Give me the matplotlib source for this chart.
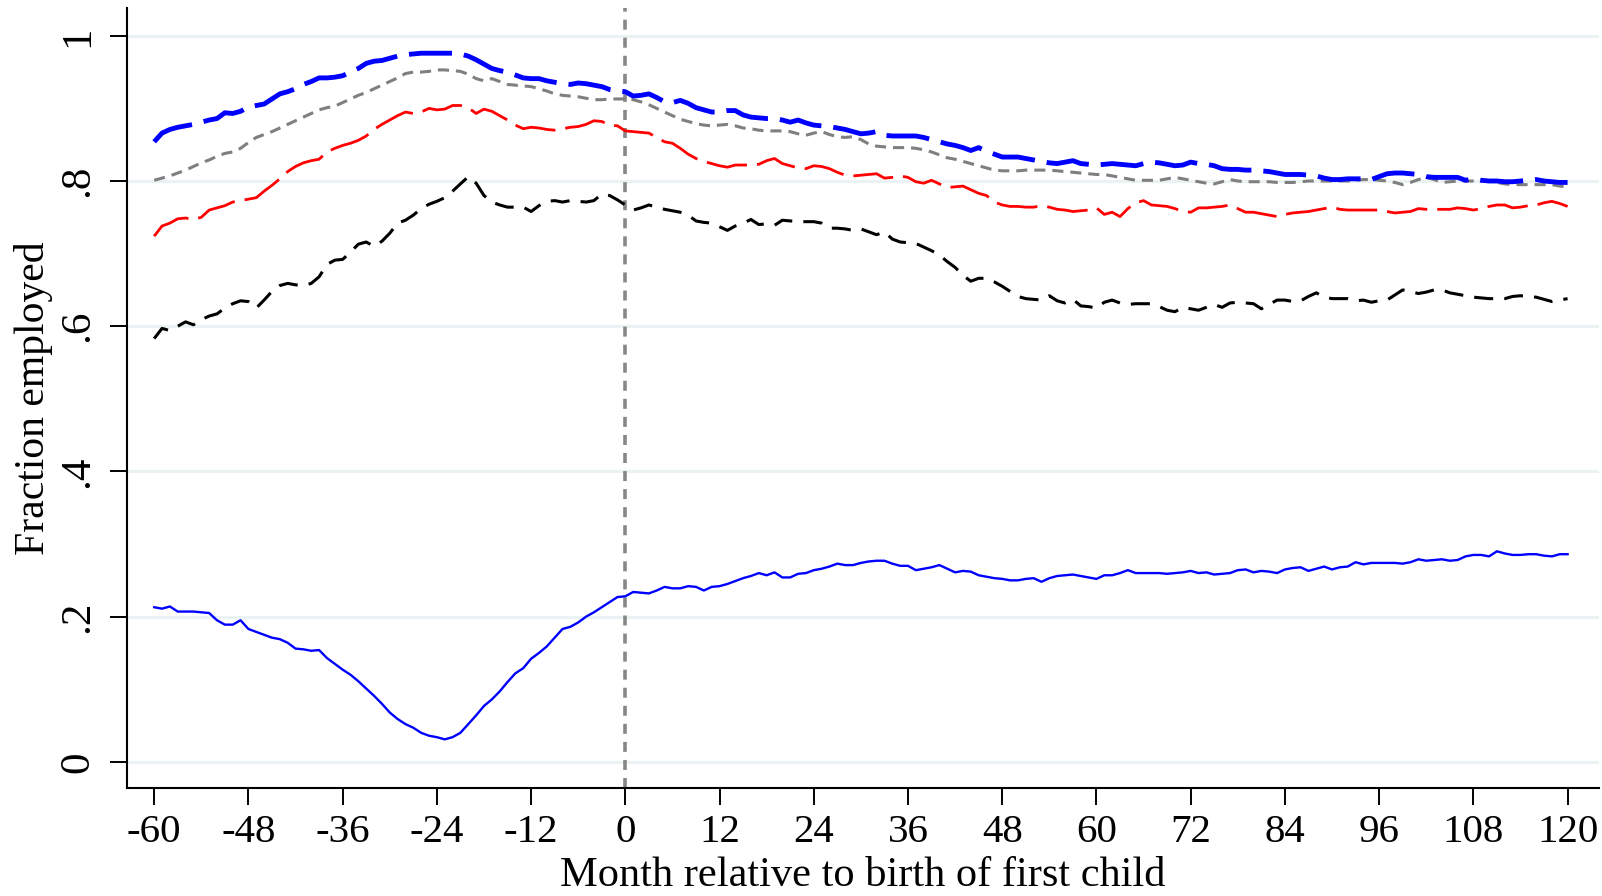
import matplotlib
matplotlib.use("Agg")
import matplotlib.pyplot as plt
import numpy as np

plt.rcParams['font.family'] = ['Liberation Serif', 'DejaVu Serif']
plt.rcParams['lines.scale_dashes'] = False

months = list(range(-60, 121))

# Top blue long-dashed series
blue_dash = [
    0.854, 0.866, 0.871, 0.874, 0.876, 0.878, 0.881, 0.884, 0.886, 0.894,
    0.893, 0.896, 0.902, 0.904, 0.906, 0.913, 0.920, 0.923, 0.927, 0.933,
    0.937, 0.942, 0.942, 0.943, 0.945, 0.950, 0.955, 0.962, 0.965, 0.966,
    0.969, 0.972, 0.974, 0.975, 0.976, 0.976, 0.976, 0.976, 0.976, 0.975,
    0.972, 0.967, 0.961, 0.955, 0.952, 0.950, 0.946, 0.942, 0.941, 0.941,
    0.938, 0.936, 0.934, 0.933, 0.935, 0.934, 0.932, 0.930, 0.926, 0.924,
    0.923, 0.917, 0.918, 0.920, 0.915, 0.909, 0.908, 0.911, 0.907, 0.901,
    0.898, 0.895, 0.895, 0.897, 0.897, 0.891, 0.888, 0.887, 0.886, 0.886,
    0.884, 0.881, 0.884, 0.880, 0.877, 0.876, 0.875, 0.873, 0.871, 0.868,
    0.865, 0.866, 0.868, 0.863, 0.862, 0.862, 0.862, 0.862, 0.860, 0.857,
    0.854, 0.851, 0.849, 0.846, 0.842, 0.846, 0.841, 0.837, 0.833, 0.833,
    0.833, 0.831, 0.829, 0.827, 0.825, 0.824, 0.826, 0.828, 0.824, 0.823,
    0.822, 0.823, 0.824, 0.823, 0.822, 0.821, 0.824, 0.826, 0.825, 0.823,
    0.821, 0.822, 0.826, 0.824, 0.823, 0.821, 0.817, 0.816, 0.816, 0.815,
    0.815, 0.814, 0.813, 0.811, 0.809, 0.809, 0.809, 0.808, 0.807, 0.804,
    0.802, 0.802, 0.803, 0.803, 0.803, 0.802, 0.806, 0.810, 0.811, 0.811,
    0.810, 0.809, 0.806, 0.805, 0.805, 0.805, 0.805, 0.801, 0.803, 0.801,
    0.800, 0.800, 0.799, 0.799, 0.800, 0.801, 0.802, 0.800, 0.799, 0.798,
    0.798,
]

# Gray short-dashed series
gray_dot = [
    0.801, 0.804, 0.807, 0.811, 0.815, 0.820, 0.825, 0.829, 0.834, 0.838,
    0.840, 0.845, 0.853, 0.860, 0.864, 0.868, 0.873, 0.878, 0.883, 0.888,
    0.893, 0.898, 0.901, 0.903, 0.908, 0.913, 0.918, 0.922, 0.927, 0.932,
    0.937, 0.942, 0.948, 0.950, 0.950, 0.951, 0.953, 0.953, 0.952, 0.951,
    0.947, 0.941, 0.938, 0.941, 0.937, 0.933, 0.932, 0.931, 0.930, 0.927,
    0.924, 0.920, 0.918, 0.917, 0.916, 0.914, 0.912, 0.912, 0.913, 0.913,
    0.913, 0.912, 0.909, 0.905, 0.900, 0.895, 0.890, 0.885, 0.882, 0.879,
    0.877, 0.876, 0.877, 0.878, 0.876, 0.873, 0.872, 0.870, 0.869, 0.869,
    0.869, 0.868, 0.865, 0.863, 0.866, 0.868, 0.864, 0.861, 0.860, 0.861,
    0.857, 0.851, 0.848, 0.847, 0.846, 0.846, 0.846, 0.845, 0.843, 0.840,
    0.836, 0.832, 0.830, 0.827, 0.824, 0.821, 0.818, 0.815, 0.814, 0.814,
    0.814, 0.815, 0.815, 0.815, 0.815, 0.814, 0.813, 0.812, 0.811, 0.810,
    0.809, 0.809, 0.807, 0.805, 0.803, 0.801, 0.801, 0.801, 0.801, 0.803,
    0.805, 0.803, 0.801, 0.799, 0.797, 0.796, 0.799, 0.802, 0.800, 0.799,
    0.799, 0.799, 0.799, 0.798, 0.798, 0.798, 0.799, 0.800, 0.800, 0.800,
    0.800, 0.800, 0.800, 0.801, 0.802, 0.802, 0.801, 0.800, 0.798, 0.795,
    0.798, 0.802, 0.805, 0.802, 0.798, 0.799, 0.800, 0.800, 0.800, 0.800,
    0.800, 0.798, 0.796, 0.795, 0.795, 0.795, 0.795, 0.795, 0.795, 0.793,
    0.792,
]

# Red dashed series
red_dash = [
    0.724, 0.738, 0.742, 0.748, 0.749, 0.747, 0.750, 0.760, 0.763, 0.766,
    0.771, 0.773, 0.775, 0.777, 0.786, 0.794, 0.803, 0.813, 0.820, 0.825,
    0.828, 0.830, 0.840, 0.845, 0.849, 0.852, 0.856, 0.862, 0.871, 0.878,
    0.884, 0.890, 0.895, 0.893, 0.895, 0.900, 0.898, 0.899, 0.904, 0.904,
    0.901, 0.893, 0.899, 0.896, 0.890, 0.884, 0.877, 0.872, 0.874, 0.873,
    0.871, 0.870, 0.872, 0.874, 0.875, 0.878, 0.883, 0.882, 0.877, 0.876,
    0.869, 0.868, 0.867, 0.866, 0.860, 0.854, 0.852, 0.845, 0.837, 0.831,
    0.827, 0.824, 0.821, 0.819, 0.822, 0.822, 0.822, 0.823, 0.828, 0.831,
    0.824, 0.821, 0.818, 0.817, 0.821, 0.820, 0.817, 0.812, 0.808, 0.807,
    0.808, 0.809, 0.810, 0.804, 0.805, 0.807, 0.805, 0.799, 0.797, 0.801,
    0.796, 0.791, 0.792, 0.793, 0.788, 0.783, 0.780, 0.771, 0.767, 0.765,
    0.765, 0.764, 0.764, 0.766, 0.764, 0.761, 0.760, 0.758, 0.759, 0.760,
    0.763, 0.754, 0.757, 0.751, 0.762, 0.770, 0.773, 0.767, 0.766, 0.765,
    0.762, 0.758, 0.757, 0.763, 0.763, 0.764, 0.765, 0.767, 0.762, 0.757,
    0.757, 0.755, 0.753, 0.751, 0.754, 0.756, 0.757, 0.758, 0.760, 0.762,
    0.764, 0.761, 0.760, 0.760, 0.760, 0.760, 0.760, 0.758, 0.756, 0.757,
    0.758, 0.762, 0.761, 0.761, 0.761, 0.761, 0.763, 0.762, 0.760, 0.762,
    0.765, 0.767, 0.767, 0.763, 0.764, 0.766, 0.767, 0.770, 0.772, 0.769,
    0.765,
]

# Black dashed series
black_dash = [
    0.583, 0.597, 0.594, 0.600, 0.606, 0.602, 0.609, 0.614, 0.617, 0.625,
    0.631, 0.635, 0.634, 0.625, 0.636, 0.648, 0.656, 0.659, 0.657, 0.656,
    0.659, 0.668, 0.685, 0.691, 0.692, 0.702, 0.713, 0.716, 0.710, 0.717,
    0.728, 0.742, 0.746, 0.753, 0.762, 0.768, 0.772, 0.777, 0.786, 0.796,
    0.806, 0.797, 0.780, 0.771, 0.767, 0.764, 0.764, 0.764, 0.758, 0.766,
    0.772, 0.773, 0.771, 0.773, 0.772, 0.771, 0.773, 0.782, 0.780, 0.774,
    0.767, 0.760, 0.763, 0.767, 0.764, 0.761, 0.759, 0.757, 0.753, 0.745,
    0.743, 0.742, 0.737, 0.732, 0.738, 0.742, 0.747, 0.740, 0.741, 0.739,
    0.746, 0.745, 0.744, 0.744, 0.744, 0.742, 0.735, 0.735, 0.734, 0.732,
    0.734, 0.730, 0.726, 0.730, 0.720, 0.716, 0.715, 0.714, 0.709, 0.704,
    0.698, 0.689, 0.681, 0.670, 0.662, 0.666, 0.666, 0.661, 0.655, 0.648,
    0.641, 0.638, 0.637, 0.636, 0.642, 0.635, 0.632, 0.637, 0.628, 0.627,
    0.625, 0.633, 0.636, 0.632, 0.630, 0.631, 0.631, 0.631, 0.627, 0.622,
    0.620, 0.626, 0.624, 0.622, 0.626, 0.630, 0.626, 0.632, 0.633, 0.632,
    0.631, 0.624, 0.630, 0.636, 0.636, 0.634, 0.635, 0.641, 0.646, 0.640,
    0.638, 0.638, 0.638, 0.635, 0.636, 0.633, 0.635, 0.636, 0.643, 0.650,
    0.648, 0.645, 0.647, 0.650, 0.650, 0.646, 0.644, 0.642, 0.640, 0.639,
    0.638, 0.638, 0.638, 0.641, 0.642, 0.641, 0.640, 0.637, 0.634, 0.636,
    0.638,
]

# Bottom blue solid series
blue_solid = [
    0.213, 0.211, 0.214, 0.207, 0.207, 0.207, 0.206, 0.205, 0.195, 0.189,
    0.189, 0.195, 0.183, 0.179, 0.175, 0.171, 0.169, 0.164, 0.156, 0.155,
    0.153, 0.154, 0.143, 0.135, 0.127, 0.120, 0.111, 0.101, 0.091, 0.080,
    0.068, 0.059, 0.052, 0.047, 0.040, 0.036, 0.034, 0.031, 0.034, 0.040,
    0.052, 0.064, 0.077, 0.086, 0.097, 0.110, 0.122, 0.129, 0.142, 0.150,
    0.159, 0.171, 0.183, 0.186, 0.192, 0.200, 0.206, 0.213, 0.220, 0.227,
    0.228, 0.234, 0.233, 0.232, 0.236, 0.241, 0.239, 0.239, 0.242, 0.241,
    0.236, 0.241, 0.242, 0.245, 0.249, 0.253, 0.256, 0.260, 0.257, 0.261,
    0.254, 0.254, 0.259, 0.260, 0.264, 0.266, 0.269, 0.273, 0.271, 0.271,
    0.274, 0.276, 0.277, 0.277, 0.273, 0.270, 0.270, 0.264, 0.266, 0.268,
    0.271, 0.266, 0.261, 0.263, 0.262, 0.257, 0.255, 0.253, 0.252, 0.250,
    0.250, 0.252, 0.253, 0.248, 0.253, 0.256, 0.257, 0.258, 0.256, 0.254,
    0.252, 0.257, 0.257, 0.260, 0.264, 0.260, 0.260, 0.260, 0.260, 0.259,
    0.260, 0.261, 0.263, 0.260, 0.261, 0.258, 0.259, 0.260, 0.264, 0.265,
    0.261, 0.263, 0.262, 0.260, 0.265, 0.267, 0.268, 0.263, 0.266, 0.269,
    0.265, 0.268, 0.269, 0.275, 0.272, 0.274, 0.274, 0.274, 0.274, 0.273,
    0.275, 0.279, 0.277, 0.278, 0.279, 0.277, 0.278, 0.283, 0.285, 0.285,
    0.283, 0.290, 0.287, 0.285, 0.285, 0.286, 0.286, 0.284, 0.283, 0.286,
    0.286,
]

x_ticks = list(range(-60, 121, 12))
y_ticks = [0, 0.2, 0.4, 0.6, 0.8, 1.0]
y_tick_labels = ["0", ".2", ".4", ".6", ".8", "1"]

W, H = 1602, 896
fig = plt.figure(figsize=(W / 100, H / 100), dpi=100)
ax = fig.add_axes([126.7 / W, 1 - 788 / H, (1599 - 126.7) / W, (788 - 8.2) / H])

ax.set_xlim(-63.5, 124)
ax.set_ylim(-0.036, 1.038)

for yt in y_ticks:
    ax.axhline(yt, color="#EAF2F3", lw=2.2, zorder=0)

ax.axvline(0, color="#878787", lw=2.6, linestyle=(0, (7.2, 5.8)),
           dash_capstyle="butt", zorder=1)

ax.plot(months, gray_dot, color="#7F7F7F", lw=2.2,
        linestyle=(0, (8, 5)), dash_capstyle="butt", zorder=3)
ax.plot(months, blue_dash, color="#0000FF", lw=3.5,
        linestyle=(0, (31, 8.6)), dash_capstyle="butt", zorder=4)
ax.plot(months, red_dash, color="#FF0000", lw=2.0,
        linestyle=(0, (29.5, 7.2)), dash_capstyle="butt", zorder=3)
ax.plot(months, black_dash, color="#000000", lw=2.2,
        linestyle=(0, (13.7, 8)), dash_capstyle="butt", zorder=3)
ax.plot(months, blue_solid, color="#0000FF", lw=1.7, zorder=3)

for side in ("top", "right"):
    ax.spines[side].set_visible(False)
for side in ("left", "bottom"):
    ax.spines[side].set_linewidth(1.5)

ax.set_xticks(x_ticks)
ax.set_xticklabels([str(t) for t in x_ticks])
ax.set_yticks(y_ticks)
ax.set_yticklabels(y_tick_labels, rotation=90, va="center")
ax.tick_params(axis="both", direction="out", length=12, width=1.4)
ax.tick_params(axis="x", pad=7, labelsize=29.5)
ax.tick_params(axis="y", pad=9, labelsize=31)

ax.set_xlabel("Month relative to birth of first child", fontsize=30.5,
              labelpad=3.5)
ax.set_ylabel("Fraction employed", fontsize=30, labelpad=4)

fig.savefig("out.png", dpi=100)
